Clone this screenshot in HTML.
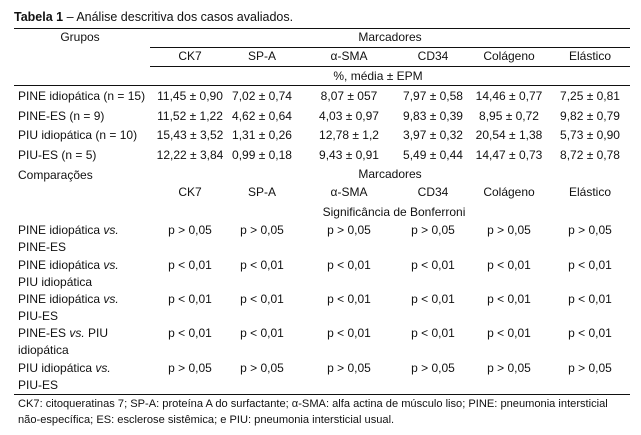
<!DOCTYPE html>
<html><head><meta charset="utf-8"><style>
body{margin:0;background:#fff;width:641px;height:435px;position:relative;overflow:hidden;font-family:"Liberation Sans",sans-serif;font-size:12px;color:#111}
.t{position:absolute;line-height:16px;white-space:nowrap}
.c{transform:translateX(-50%)}
.l{position:absolute;height:1px;background:#111}
i{font-style:italic}
</style></head><body>
<div class="t" style="left:14px;top:9px;font-size:12.5px"><b>Tabela 1</b> – Análise descritiva dos casos avaliados.</div>
<div class="l" style="left:14px;width:616px;top:28px"></div>
<div class="l" style="left:150px;width:480px;top:47px"></div>
<div class="l" style="left:150px;width:480px;top:66px"></div>
<div class="l" style="left:14px;width:616px;top:85px"></div>
<div class="l" style="left:14px;width:616px;top:394px"></div>

<div class="t c" style="left:80px;top:29px">Grupos</div>
<div class="t c" style="left:390px;top:29px">Marcadores</div>
<div class="t c" style="left:190px;top:48px">CK7</div>
<div class="t c" style="left:262px;top:48px">SP-A</div>
<div class="t c" style="left:349px;top:48px">α-SMA</div>
<div class="t c" style="left:433px;top:48px">CD34</div>
<div class="t c" style="left:509px;top:48px">Colágeno</div>
<div class="t c" style="left:590px;top:48px">Elástico</div>
<div class="t c" style="left:378px;top:68px">%, média ± EPM</div>

<div class="t" style="left:18px;top:88px">PINE idiopática (n = 15)</div>
<div class="t" style="left:18px;top:108px">PINE-ES (n = 9)</div>
<div class="t" style="left:18px;top:127px">PIU idiopática (n = 10)</div>
<div class="t" style="left:18px;top:147px">PIU-ES (n = 5)</div>

<div class="t c" style="left:190px;top:88px">11,45 ± 0,90</div>
<div class="t c" style="left:262px;top:88px">7,02 ± 0,74</div>
<div class="t c" style="left:349px;top:88px">8,07 ± 057</div>
<div class="t c" style="left:433px;top:88px">7,97 ± 0,58</div>
<div class="t c" style="left:509px;top:88px">14,46 ± 0,77</div>
<div class="t c" style="left:590px;top:88px">7,25 ± 0,81</div>

<div class="t c" style="left:190px;top:108px">11,52 ± 1,22</div>
<div class="t c" style="left:262px;top:108px">4,62 ± 0,64</div>
<div class="t c" style="left:349px;top:108px">4,03 ± 0,97</div>
<div class="t c" style="left:433px;top:108px">9,83 ± 0,39</div>
<div class="t c" style="left:509px;top:108px">8,95 ± 0,72</div>
<div class="t c" style="left:590px;top:108px">9,82 ± 0,79</div>

<div class="t c" style="left:190px;top:127px">15,43 ± 3,52</div>
<div class="t c" style="left:262px;top:127px">1,31 ± 0,26</div>
<div class="t c" style="left:349px;top:127px">12,78 ± 1,2</div>
<div class="t c" style="left:433px;top:127px">3,97 ± 0,32</div>
<div class="t c" style="left:509px;top:127px">20,54 ± 1,38</div>
<div class="t c" style="left:590px;top:127px">5,73 ± 0,90</div>

<div class="t c" style="left:190px;top:147px">12,22 ± 3,84</div>
<div class="t c" style="left:262px;top:147px">0,99 ± 0,18</div>
<div class="t c" style="left:349px;top:147px">9,43 ± 0,91</div>
<div class="t c" style="left:433px;top:147px">5,49 ± 0,44</div>
<div class="t c" style="left:509px;top:147px">14,47 ± 0,73</div>
<div class="t c" style="left:590px;top:147px">8,72 ± 0,78</div>

<div class="t" style="left:18px;top:167px">Comparações</div>
<div class="t c" style="left:390px;top:166px">Marcadores</div>
<div class="t c" style="left:190px;top:184px">CK7</div>
<div class="t c" style="left:262px;top:184px">SP-A</div>
<div class="t c" style="left:349px;top:184px">α-SMA</div>
<div class="t c" style="left:433px;top:184px">CD34</div>
<div class="t c" style="left:509px;top:184px">Colágeno</div>
<div class="t c" style="left:590px;top:184px">Elástico</div>
<div class="t c" style="left:394px;top:204px">Significância de Bonferroni</div>

<div class="t" style="left:18px;top:222px;line-height:17px">PINE idiopática <i>vs.</i><br>PINE-ES</div>
<div class="t" style="left:18px;top:257px;line-height:17px">PINE idiopática <i>vs.</i><br>PIU idiopática</div>
<div class="t" style="left:18px;top:291px;line-height:17px">PINE idiopática <i>vs.</i><br>PIU-ES</div>
<div class="t" style="left:18px;top:325px;line-height:17px">PINE-ES <i>vs.</i> PIU<br>idiopática</div>
<div class="t" style="left:18px;top:360px;line-height:17px">PIU idiopática <i>vs.</i><br>PIU-ES</div>

<div class="t c" style="left:190px;top:222px">p &gt; 0,05</div><div class="t c" style="left:262px;top:222px">p &gt; 0,05</div><div class="t c" style="left:349px;top:222px">p &gt; 0,05</div><div class="t c" style="left:433px;top:222px">p &gt; 0,05</div><div class="t c" style="left:509px;top:222px">p &gt; 0,05</div><div class="t c" style="left:590px;top:222px">p &gt; 0,05</div>
<div class="t c" style="left:190px;top:257px">p &lt; 0,01</div><div class="t c" style="left:262px;top:257px">p &lt; 0,01</div><div class="t c" style="left:349px;top:257px">p &lt; 0,01</div><div class="t c" style="left:433px;top:257px">p &lt; 0,01</div><div class="t c" style="left:509px;top:257px">p &lt; 0,01</div><div class="t c" style="left:590px;top:257px">p &lt; 0,01</div>
<div class="t c" style="left:190px;top:291px">p &lt; 0,01</div><div class="t c" style="left:262px;top:291px">p &lt; 0,01</div><div class="t c" style="left:349px;top:291px">p &lt; 0,01</div><div class="t c" style="left:433px;top:291px">p &lt; 0,01</div><div class="t c" style="left:509px;top:291px">p &lt; 0,01</div><div class="t c" style="left:590px;top:291px">p &lt; 0,01</div>
<div class="t c" style="left:190px;top:325px">p &lt; 0,01</div><div class="t c" style="left:262px;top:325px">p &lt; 0,01</div><div class="t c" style="left:349px;top:325px">p &lt; 0,01</div><div class="t c" style="left:433px;top:325px">p &lt; 0,01</div><div class="t c" style="left:509px;top:325px">p &lt; 0,01</div><div class="t c" style="left:590px;top:325px">p &lt; 0,01</div>
<div class="t c" style="left:190px;top:360px">p &gt; 0,05</div><div class="t c" style="left:262px;top:360px">p &gt; 0,05</div><div class="t c" style="left:349px;top:360px">p &gt; 0,05</div><div class="t c" style="left:433px;top:360px">p &gt; 0,05</div><div class="t c" style="left:509px;top:360px">p &gt; 0,05</div><div class="t c" style="left:590px;top:360px">p &gt; 0,05</div>

<div class="t" style="left:18px;top:396px;font-size:11.1px;line-height:16px">CK7: citoqueratinas 7; SP-A: proteína A do surfactante; α-SMA: alfa actina de músculo liso; PINE: pneumonia intersticial<br>não-específica; ES: esclerose sistêmica; e PIU: pneumonia intersticial usual.</div>
</body></html>
